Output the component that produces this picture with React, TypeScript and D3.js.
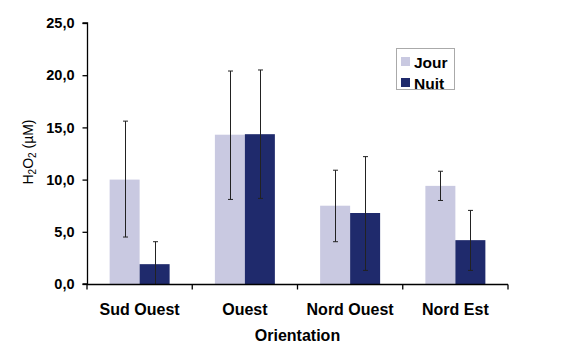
import React, { useEffect, useRef } from "react";
import * as d3 from "d3";

const categories = ["Sud Ouest", "Ouest", "Nord Ouest", "Nord Est"];
const series = ["Jour", "Nuit"];
const jourValues = [10.0, 14.3, 7.5, 9.4];
const nuitValues = [1.9, 14.35, 6.8, 4.2];
const jourErrLow = [4.5, 8.1, 4.05, 8.0];
const jourErrHigh = [15.6, 20.4, 10.9, 10.8];
const nuitErrLow = [0, 8.2, 1.3, 1.3];
const nuitErrHigh = [4.05, 20.5, 12.2, 7.05];
const yTicks = [0, 5, 10, 15, 20, 25];
const colors = ["#C9C9E1", "#1F2A6C"];

export default function App() {
  const ref = useRef<SVGSVGElement>(null);
  useEffect(() => {
    const svg = d3.select(ref.current);
    svg.selectAll("*").remove();
    const left = 87, right = 508, top = 23, bottom = 284;
    const x = d3.scaleBand().domain(categories).range([left, right]).paddingInner(0.43).paddingOuter(0.215);
    const x1 = d3.scaleBand().domain(series).range([0, x.bandwidth()]);
    const y = d3.scaleLinear().domain([0, 25]).range([bottom, top]);
    const font = "Liberation Sans, Arial, sans-serif";

    const values = [jourValues, nuitValues];
    const lows = [jourErrLow, nuitErrLow];
    const highs = [jourErrHigh, nuitErrHigh];

    series.forEach((s, si) => {
      categories.forEach((c, ci) => {
        const bx = (x(c) as number) + (x1(s) as number);
        svg.append("rect")
          .attr("x", bx).attr("y", y(values[si][ci]))
          .attr("width", x1.bandwidth()).attr("height", y(0) - y(values[si][ci]))
          .attr("fill", colors[si]);
      });
    });
    series.forEach((s, si) => {
      categories.forEach((c, ci) => {
        const cx = Math.round((x(c) as number) + (x1(s) as number) + x1.bandwidth() / 2) + 0.5;
        const y1 = y(lows[si][ci]);
        const y2 = y(highs[si][ci]);
        const g = svg.append("g").attr("stroke", "#222").attr("stroke-width", 1);
        g.append("line").attr("x1", cx).attr("x2", cx).attr("y1", y1).attr("y2", y2);
        g.append("line").attr("x1", cx - 2.5).attr("x2", cx + 2.5).attr("y1", y2).attr("y2", y2);
        if (lows[si][ci] > 0) g.append("line").attr("x1", cx - 2.5).attr("x2", cx + 2.5).attr("y1", y1).attr("y2", y1);
      });
    });

    // Y axis
    const ya = svg.append("g").attr("transform", `translate(${left + 0.5},0)`)
      .call(d3.axisLeft(y).tickValues(yTicks).tickSize(5).tickPadding(8).tickFormat((d) => d3.format(".1f")(d as number).replace(".", ",")));
    ya.select(".domain").attr("stroke", "#000").attr("stroke-width", 1.3).attr("d", `M-5,${bottom}H0V${top}H-5`);
    ya.selectAll(".tick line").attr("stroke", "#000").attr("stroke-width", 1.3);
    ya.selectAll(".tick text").attr("font-family", font).attr("font-size", 14.5).attr("font-weight", "bold").attr("fill", "#000");

    // X axis
    const xa = svg.append("g").attr("transform", `translate(0,${bottom + 0.5})`);
    xa.append("line").attr("x1", left).attr("x2", right).attr("stroke", "#000").attr("stroke-width", 1.3);
    const bounds = [0, 1, 2, 3, 4].map((i) => left + (i * (right - left)) / 4);
    bounds.forEach((bx) => xa.append("line").attr("x1", bx).attr("x2", bx).attr("y1", 0).attr("y2", 5).attr("stroke", "#000").attr("stroke-width", 1.3));
    categories.forEach((c) => {
      xa.append("text").attr("x", (x(c) as number) + x.bandwidth() / 2).attr("y", 30.5)
        .attr("text-anchor", "middle").attr("font-family", font).attr("font-size", 16).attr("font-weight", "bold").text(c);
    });
    svg.append("text").attr("x", (left + right) / 2).attr("y", 341).attr("text-anchor", "middle")
      .attr("font-family", font).attr("font-size", 16).attr("font-weight", "bold").text("Orientation");

    // Y title
    const yt = svg.append("text").attr("transform", `translate(33,152) rotate(-90)`).attr("text-anchor", "middle")
      .attr("font-family", font).attr("font-size", 14);
    yt.append("tspan").text("H");
    yt.append("tspan").attr("font-size", 10).attr("dy", 3).text("2");
    yt.append("tspan").attr("dy", -3).text("O");
    yt.append("tspan").attr("font-size", 10).attr("dy", 3).text("2");
    yt.append("tspan").attr("dy", -3).text(" (µM)");

    // Legend
    const lg = svg.append("g");
    lg.append("rect").attr("x", 396.5).attr("y", 48.5).attr("width", 58).attr("height", 41).attr("fill", "#fff").attr("stroke", "#aaa");
    series.forEach((s, i) => {
      lg.append("rect").attr("x", 401).attr("y", 57 + i * 21).attr("width", 9).attr("height", 9).attr("fill", colors[i]);
      lg.append("text").attr("x", 414).attr("y", 68 + i * 20.5).attr("font-family", font).attr("font-size", 15.5).attr("font-weight", "bold").text(s);
    });
  }, []);
  return (
    <svg ref={ref} width={580} height={360} style={{ position: "absolute", left: 0, top: 0, background: "#fff" }} />
  );
}
